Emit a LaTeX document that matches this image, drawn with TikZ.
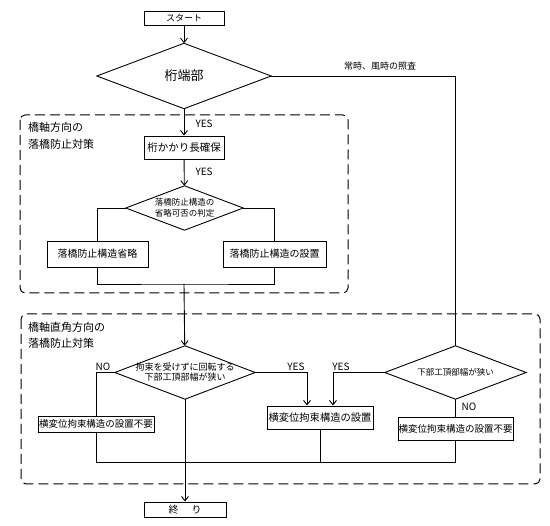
\documentclass[tikz,border=0pt]{standalone}
\usepackage{fontspec}
\setmainfont{Noto Sans CJK JP}
\usetikzlibrary{positioning}
\usetikzlibrary{arrows.meta,calc}
\tikzstyle{process}=[rectangle,draw,line width=0.9pt,inner sep=0pt]
\tikzstyle{decision}=[rectangle,inner sep=0pt,align=center]
\tikzstyle{edge} = [draw,line width=0.9pt,-{Straight Barb[length=4.5pt,width=7pt]}]
\tikzstyle{undirectededge} = [draw,line width=0.9pt]
\tikzstyle{weight} = [font=\fontsize{10}{12}\selectfont]
\tikzstyle{group} = [draw,line width=1pt,dash pattern=on 10pt off 5pt,rounded corners=5pt]
\tikzstyle{grouplabel} = [anchor=west,align=left,inner sep=0pt]

\begin{document}
\begin{tikzpicture}[x=1pt,y=-1pt]

    \useasboundingbox (0,0) rectangle (550,526);

% Groups
    \draw[group] (20,115) rectangle (348,293);
    \draw[group] (21,314) rectangle (540,484);
    \node[grouplabel,font=\fontsize{11}{17}\selectfont] (g1) at (28,136) {橋軸方向の\\落橋防止対策};
    \node[grouplabel,font=\fontsize{11}{16}\selectfont] (g2) at (28,335) {橋軸直角方向の\\落橋防止対策};

%Boxes
    \foreach \pos/\name/\w/\h/\fs/\label in {{(184,18)/start/80/14/9/スタート}, {(184,147.5)/b1/80/23/10.5/桁かかり長確保},
        {(97.5,254)/b2/101/26/10/落橋防止構造省略}, {(274.5,254)/b3/103/26/10/落橋防止構造の設置},
        {(96,424)/b4/116/16/9.5/横変位拘束構造の設置不要}, {(320,417.5)/b5/106/23/10.3/横変位拘束構造の設置},
        {(455.5,428.5)/b6/115/23/9.5/横変位拘束構造の設置不要}, {(185,509.5)/end/82/15/10/終\hspace{13pt}り}}
        \node[process,minimum width=\w pt,minimum height=\h pt,font=\fontsize{\fs}{\fs}\selectfont] (\name) at \pos {\label};

%Decisions
    \foreach \pos/\name/\w/\h/\fs/\bs/\label in {{(184,76)/d1/174/65/13/15/桁端部}, {(184.5,208)/d2/117/44/8.5/11/落橋防止構造の\\省略可否の判定},
        {(185,372.5)/d3/140/53/9/10/拘束を受けずに回転する\\下部工頂部幅が狭い}, {(455.5,372.5)/d4/141/53/8.5/10/下部工頂部幅が狭い}}
        \node[decision,minimum width=\w pt,minimum height=\h pt,font=\fontsize{\fs}{\bs}\selectfont] (\name) at \pos {\label};
    \foreach \name in {d1,d2,d3,d4}
        \draw[undirectededge] (\name.north) -- (\name.east) -- (\name.south) -- (\name.west) -- cycle;

    \coordinate (j1) at (184,284);
    \coordinate (j2) at (184,462);

% Edges
    %layer 1
    \foreach \source/ \dest in {start/d1, d1/b1, b1/d2, d3/end}
        \path[edge] (\source) -- (\dest);
    \path[edge] (j1) -- (d3);
    \path[undirectededge] (d2.west) -| (b2.north);
    \path[undirectededge] (d2.east) -| (b3.north);
    \path[undirectededge] (b2.south) |- (j1) -| (b3.south);

    %layer 2
    \path[undirectededge] (d1.east) -| (d4.north);
    \path[undirectededge] (d3.west) -| (b4.north);
    \path[edge] (d3.east) -| ([xshift=-13pt]b5.north);
    \path[edge] (d4.west) -| ([xshift=13pt]b5.north);
    \path[undirectededge] (d4.south) -- (b6.north);
    \path[undirectededge] (b4.south) |- (b6.south |- j2) -- (b6.south);
    \path[undirectededge] (b5.south) -- (b5.south |- j2);

%Label
    \node[font=\fontsize{9}{10}\selectfont,anchor=south] (check) at (380,74) {常時、風時の照査};
    \node[weight,anchor=west] (yes1) at (192,124) {YES};
    \node[weight,anchor=west] (yes2) at (192,172) {YES};
    \node[weight] (yes3) at (296,367) {YES};
    \node[weight] (yes4) at (341,367) {YES};
    \node[weight] (no1) at (103,367) {NO};
    \node[weight,anchor=west] (no2) at (458,407) {NO};

\end{tikzpicture}
\end{document}
